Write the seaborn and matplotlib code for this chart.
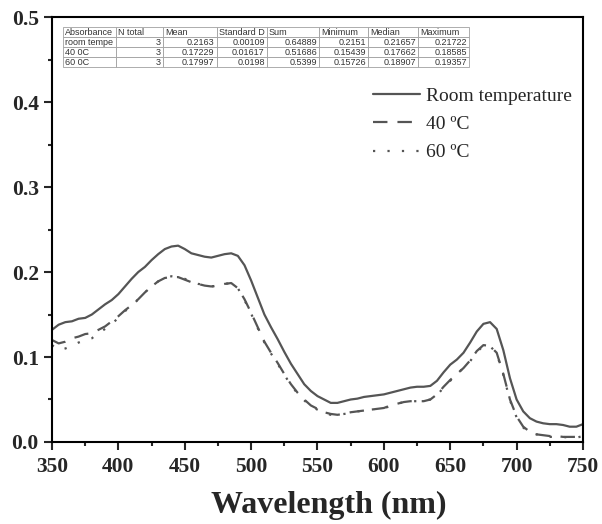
import numpy as np
import pandas as pd
import seaborn as sns
import matplotlib.pyplot as plt

# longueurs d'onde (nm)
wavelength = [350, 355, 360, 365, 370, 375, 380, 385, 390, 395,
              400, 405, 410, 415, 420, 425, 430, 435, 440, 445,
              450, 455, 460, 465, 470, 475, 480, 485, 490, 495,
              500, 505, 510, 515, 520, 525, 530, 535, 540, 545,
              550, 555, 560, 565, 570, 575, 580, 585, 590, 595,
              600, 605, 610, 615, 620, 625, 630, 635, 640, 645,
              650, 655, 660, 665, 670, 675, 680, 685, 690, 695,
              700, 705, 710, 715, 720, 725, 730, 735, 740, 745, 750]

room_temp = [0.132, 0.138, 0.141, 0.142, 0.145, 0.146, 0.150, 0.156, 0.162, 0.167,
             0.174, 0.183, 0.192, 0.200, 0.206, 0.214, 0.221, 0.227, 0.230, 0.231,
             0.227, 0.222, 0.220, 0.218, 0.217, 0.219, 0.221, 0.222, 0.219, 0.208,
             0.190, 0.170, 0.150, 0.135, 0.121, 0.106, 0.092, 0.080, 0.068, 0.060,
             0.054, 0.050, 0.046, 0.046, 0.048, 0.050, 0.051, 0.053, 0.054, 0.055,
             0.056, 0.058, 0.060, 0.062, 0.064, 0.065, 0.065, 0.066, 0.072, 0.082,
             0.091, 0.097, 0.105, 0.117, 0.130, 0.139, 0.141, 0.133, 0.108, 0.075,
             0.050, 0.036, 0.028, 0.024, 0.022, 0.021, 0.021, 0.020, 0.018, 0.018, 0.021]

temp_40 = [0.120, 0.116, 0.118, 0.122, 0.124, 0.127, 0.128, 0.132, 0.136, 0.142,
           0.148, 0.155, 0.161, 0.168, 0.176, 0.183, 0.189, 0.193, 0.194, 0.194,
           0.191, 0.188, 0.186, 0.184, 0.183, 0.184, 0.186, 0.187, 0.181, 0.168,
           0.152, 0.135, 0.118, 0.105, 0.093, 0.080, 0.068, 0.058, 0.050, 0.043,
           0.039, 0.035, 0.033, 0.032, 0.033, 0.035, 0.036, 0.037, 0.038, 0.039,
           0.040, 0.043, 0.045, 0.047, 0.048, 0.048, 0.048, 0.050, 0.056, 0.065,
           0.073, 0.080, 0.087, 0.096, 0.107, 0.114, 0.113, 0.105, 0.080, 0.050,
           0.030, 0.018, 0.012, 0.009, 0.008, 0.007, 0.007, 0.006, 0.006, 0.006, 0.008]

temp_60 = [0.114, 0.108, 0.110, 0.113, 0.117, 0.120, 0.122, 0.128, 0.133, 0.139,
           0.146, 0.154, 0.160, 0.168, 0.176, 0.183, 0.189, 0.193, 0.195, 0.194,
           0.192, 0.188, 0.186, 0.185, 0.183, 0.184, 0.186, 0.187, 0.181, 0.167,
           0.151, 0.134, 0.117, 0.104, 0.092, 0.079, 0.067, 0.057, 0.049, 0.042,
           0.038, 0.034, 0.032, 0.032, 0.033, 0.034, 0.036, 0.037, 0.038, 0.039,
           0.040, 0.042, 0.045, 0.047, 0.048, 0.048, 0.048, 0.050, 0.055, 0.064,
           0.072, 0.080, 0.087, 0.095, 0.106, 0.113, 0.113, 0.104, 0.079, 0.049,
           0.029, 0.017, 0.011, 0.009, 0.007, 0.006, 0.006, 0.006, 0.005, 0.005, 0.007]

# tableau de statistiques
table_headers = ["Absorbance", "N total", "Mean", "Standard D", "Sum",
                 "Minimum", "Median", "Maximum"]
table_rows = [
    ["room tempe", "3", "0.2163", "0.00109", "0.64889", "0.2151", "0.21657", "0.21722"],
    ["40 0C", "3", "0.17229", "0.01617", "0.51686", "0.15439", "0.17662", "0.18585"],
    ["60 0C", "3", "0.17997", "0.0198", "0.5399", "0.15726", "0.18907", "0.19357"],
]

sns.set_style("ticks")
plt.rcParams['font.family'] = ['Liberation Serif', 'DejaVu Serif']

fig = plt.figure(figsize=(6.02, 5.24), dpi=100)
ax = fig.add_axes([0.0864, 0.1565, 0.882, 0.811])

line_color = '#555555'
sns.lineplot(x=wavelength, y=room_temp, ax=ax, color=line_color, lw=1.6,
             label='Room temperature')
sns.lineplot(x=wavelength, y=temp_40, ax=ax, color=line_color, lw=1.6,
             label='40 ºC').lines[-1].set_dashes((6.5, 4.5))
sns.lineplot(x=wavelength, y=temp_60, ax=ax, color=line_color, lw=1.6,
             label='60 ºC').lines[-1].set_dashes((1, 5.5))

ax.set_xlim(350, 750)
ax.set_ylim(0, 0.5)
ax.set_xticks(np.arange(350, 751, 50))
ax.set_xticks(np.arange(375, 750, 50), minor=True)
ax.set_yticks(np.arange(0, 0.51, 0.1))
ax.set_yticks(np.arange(0.05, 0.5, 0.1), minor=True)
ax.set_yticklabels(['0.0', '0.1', '0.2', '0.3', '0.4', '0.5'])
ax.tick_params(which='major', direction='out', length=6, width=1.5,
               labelsize=15.5)
ax.tick_params(axis='x', which='major', pad=5)
ax.tick_params(axis='y', which='major', pad=3.5)
ax.tick_params(which='minor', direction='out', length=3, width=1.5)
for lab in ax.get_xticklabels() + ax.get_yticklabels():
    lab.set_fontweight('bold')
for sp in ax.spines.values():
    sp.set_linewidth(1.5)
    sp.set_color('black')
ax.set_xlabel('Wavelength (nm)', fontsize=23, fontweight='bold')
ax.xaxis.set_label_coords(0.522, -0.115)
ax.set_ylabel('')

leg = ax.legend(loc='upper left', bbox_to_anchor=(0.605, 0.835), frameon=False,
                fontsize=14, handlelength=2.4, handletextpad=0.3,
                labelspacing=0.55, borderpad=0, borderaxespad=0)

tab = ax.table(cellText=table_rows, colLabels=table_headers,
               colWidths=[52.7, 46.7, 54, 50, 52.6, 49, 50, 51],
               bbox=[0.0213, 0.8816, 0.7646, 0.0941], cellLoc='right', colLoc='left')
tab.auto_set_font_size(False)
tab.set_fontsize(6.5)
for (r, c), cell in tab.get_celld().items():
    cell.PAD = 0.04
    cell.set_edgecolor('#a0a0a0')
    cell.set_linewidth(0.6)
    cell.get_text().set_fontfamily('Liberation Sans')
    cell.get_text().set_color('#333333')
    if c == 0 or r == 0:
        cell._loc = 'left'
        cell.get_text().set_ha('left')

fig.savefig('out.png', dpi=100)
